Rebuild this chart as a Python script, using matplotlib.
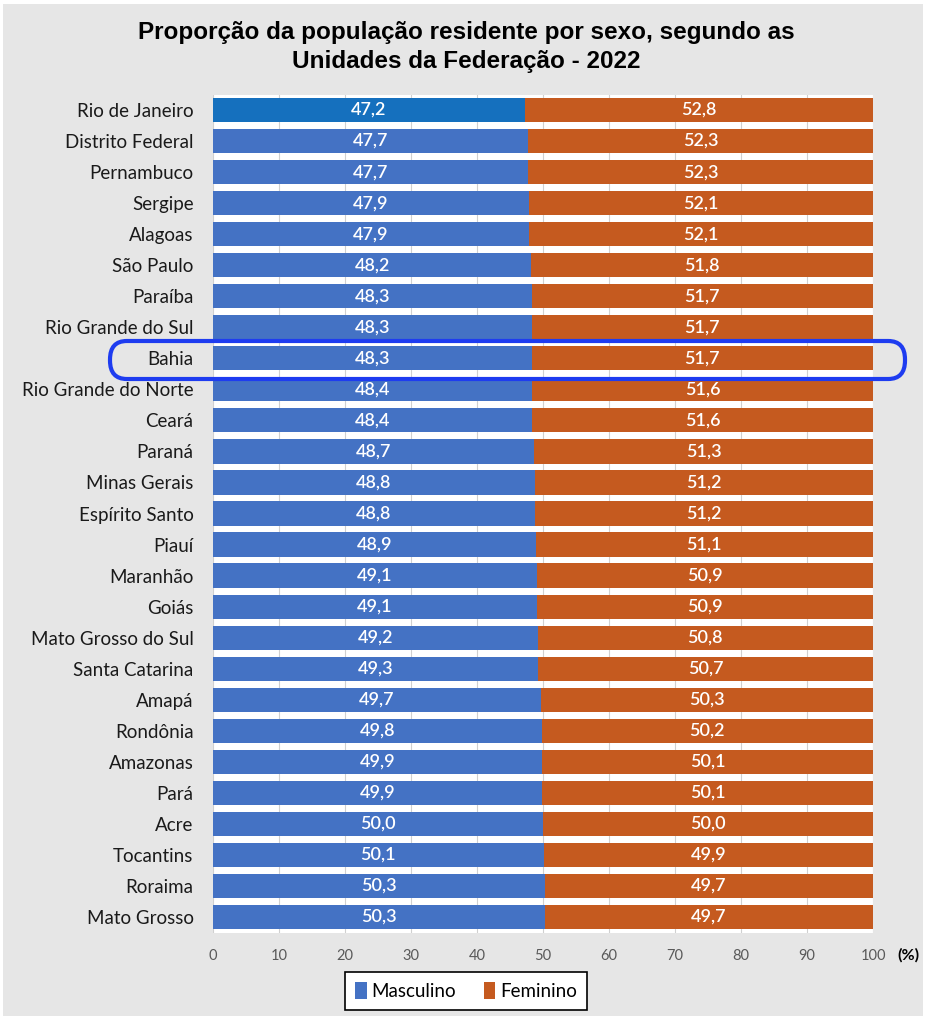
import matplotlib
matplotlib.use("Agg")
import matplotlib.pyplot as plt
from matplotlib.patches import FancyBboxPatch, Rectangle, Patch

states = ["Rio de Janeiro", "Distrito Federal", "Pernambuco", "Sergipe", "Alagoas",
          "São Paulo", "Paraíba", "Rio Grande do Sul", "Bahia", "Rio Grande do Norte",
          "Ceará", "Paraná", "Minas Gerais", "Espírito Santo", "Piauí", "Maranhão",
          "Goiás", "Mato Grosso do Sul", "Santa Catarina", "Amapá", "Rondônia",
          "Amazonas", "Pará", "Acre", "Tocantins", "Roraima", "Mato Grosso"]
masculino = [47.2, 47.7, 47.7, 47.9, 47.9, 48.2, 48.3, 48.3, 48.3, 48.4, 48.4, 48.7,
             48.8, 48.8, 48.9, 49.1, 49.1, 49.2, 49.3, 49.7, 49.8, 49.9, 49.9, 50.0,
             50.1, 50.3, 50.3]
feminino = [52.8, 52.3, 52.3, 52.1, 52.1, 51.8, 51.7, 51.7, 51.7, 51.6, 51.6, 51.3,
            51.2, 51.2, 51.1, 50.9, 50.9, 50.8, 50.7, 50.3, 50.2, 50.1, 50.1, 50.0,
            49.9, 49.7, 49.7]
xticks = [0, 10, 20, 30, 40, 50, 60, 70, 80, 90, 100]
title = "Proporção da população residente por sexo, segundo as\nUnidades da Federação - 2022"

BLUE = "#4472C4"
BLUE_FIRST = "#1570BE"
ORANGE = "#C55A1F"
GRAY_BG = "#E6E6E6"

fig = plt.figure(figsize=(9.33, 10.24), dpi=100, facecolor="white")
bg = Rectangle((3 / 933, 1 - 1016 / 1024), 920 / 933, 1012 / 1024,
               transform=fig.transFigure, facecolor=GRAY_BG,
               edgecolor="none", zorder=-10)
fig.patches.append(bg)

ax = fig.add_axes([213 / 933, 1 - 932.5 / 1024, 660 / 933, 838 / 1024])
ax.set_facecolor("white")

n = len(states)
ypos = list(range(n))
mcolors = [BLUE_FIRST if i == 0 else BLUE for i in range(n)]
ax.barh(ypos, masculino, height=0.78, color=mcolors, zorder=2)
ax.barh(ypos, feminino, left=masculino, height=0.78, color=ORANGE, zorder=2)

for i in range(n):
    ax.text(masculino[i] / 2, i, f"{masculino[i]:.1f}".replace(".", ","),
            ha="center", va="center", color="white", fontsize=13, fontweight="semibold",
            family="Lato", zorder=3)
    ax.text(masculino[i] + feminino[i] / 2, i, f"{feminino[i]:.1f}".replace(".", ","),
            ha="center", va="center", color="white", fontsize=13, fontweight="semibold",
            family="Lato", zorder=3)

ax.set_ylim(n - 0.5, -0.5)
ax.set_xlim(0, 100)
ax.set_yticks(ypos)
ax.set_yticklabels(states, fontsize=13.5, family="Lato", color="#1a1a1a")
ax.set_xticks(xticks)
ax.set_xticklabels([str(t) for t in xticks], fontsize=10.5, family="Lato", color="#595959")
ax.tick_params(axis="y", length=0, pad=14)
ax.tick_params(axis="x", length=0, pad=12)
ax.grid(axis="x", color="#D0D0D0", linewidth=0.8, zorder=1)
ax.set_axisbelow(True)
for s in ax.spines.values():
    s.set_visible(False)

fig.text(908 / 933, 1 - 955 / 1024, "(%)", ha="center", va="center",
         fontsize=11.5, fontweight="bold", family="Lato")

fig.text(0.5, 1 - 47 / 1024, title, ha="center", va="center", fontsize=17.5,
         fontweight="bold", family="Liberation Sans", linespacing=1.3)

# Highlight around Bahia
hl = FancyBboxPatch((110 / 933, 1 - 379 / 1024), 795 / 933, 38 / 1024,
                    boxstyle="round,pad=0,rounding_size=0.018",
                    transform=fig.transFigure, fill=False,
                    edgecolor="#1E3CF0", linewidth=3, zorder=10)
fig.patches.append(hl)

handles = [Patch(facecolor=BLUE, edgecolor="none", label="Masculino"),
           Patch(facecolor=ORANGE, edgecolor="none", label="Feminino")]
leg = fig.legend(handles=handles, loc="center", bbox_to_anchor=(466 / 933, 1 - 991 / 1024),
                 ncol=2, frameon=True, fancybox=False, edgecolor="black",
                 prop={"family": "Lato", "size": 13.5}, handlelength=0.6,
                 handleheight=1.0, handletextpad=0.25, columnspacing=1.5,
                 borderpad=0.55, borderaxespad=0)
leg.get_frame().set_linewidth(1.2)
leg.get_frame().set_alpha(1)

fig.savefig("out.png", dpi=100, facecolor=fig.get_facecolor())
